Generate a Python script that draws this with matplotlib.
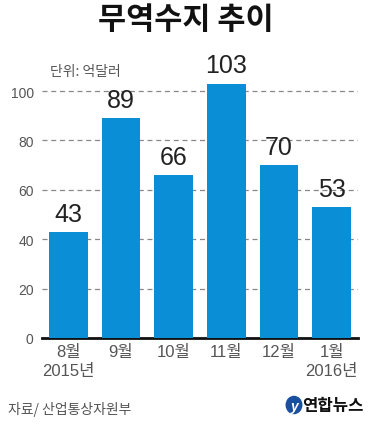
import matplotlib
matplotlib.use("Agg")
import matplotlib.pyplot as plt
import matplotlib.patches as mpatches

plt.rcParams['font.family'] = ['Liberation Sans', 'Noto Sans CJK KR', 'DejaVu Sans']

months = ['8월\n2015년', '9월', '10월', '11월', '12월', '1월\n2016년']
values = [43, 89, 66, 103, 70, 53]
yticks = [0, 20, 40, 60, 80, 100]

bar_color = '#0a8fd6'
grey = '#555555'

fig = plt.figure(figsize=(3.88, 4.27), dpi=100)
ax = fig.add_axes([42/388, 88/427, 316/388, (110*2.47)/427])

x = list(range(len(values)))
ax.bar(x, values, width=0.73, color=bar_color, zorder=3)
for xi, v in zip(x, values):
    ax.text(xi, v + 2.5, str(v), ha='center', va='bottom', fontsize=18,
            color='#222222', family=['Liberation Sans', 'DejaVu Sans'])

ax.set_xlim(-0.5, 5.5)
ax.set_ylim(0, 110)
ax.set_yticks(yticks)
ax.set_yticklabels([str(t) for t in yticks], fontsize=10, color=grey)
ax.yaxis.grid(True, linestyle=(0, (4, 3)), color='#888888', linewidth=0.9, zorder=0)
ax.tick_params(axis='y', length=0, pad=6)
ax.set_xticks(x)
ax.set_xticklabels(months, fontsize=12, color=grey, linespacing=1.35, va='top')
ax.tick_params(axis='x', length=0, pad=4)
for s in ['top', 'right', 'left']:
    ax.spines[s].set_visible(False)
ax.spines['bottom'].set_linewidth(2)
ax.spines['bottom'].set_color('#111111')

fig.text(0.48, 0.953, '무역수지 추이', ha='center', va='center', fontsize=22,
         fontweight='bold', color='#111111', family=['Noto Sans CJK KR'])
fig.text(50/388, 1 - 72/427, '단위: 억달러', ha='left', va='center', fontsize=10,
         style='italic', color=grey, family=['Noto Sans CJK KR'])
fig.text(8/388, 1 - 410/427, '자료/ 산업통상자원부', ha='left', va='center', fontsize=10,
         style='italic', color=grey, family=['Noto Sans CJK KR'])

# logo
fig.patches.append(mpatches.Circle((294/388, 1 - 406/427), 0.02, transform=fig.transFigure,
                                   color='#1a4fa0'))
fig.text(294/388, 1 - 407/427, 'y', ha='center', va='center', fontsize=10, color='white',
         style='italic', fontweight='bold')
fig.text(302/388, 1 - 406/427, '연합뉴스', ha='left', va='center', fontsize=12,
         fontweight='bold', color='#111111', family=['Noto Sans CJK KR'])

fig.savefig('out.png', dpi=100)
